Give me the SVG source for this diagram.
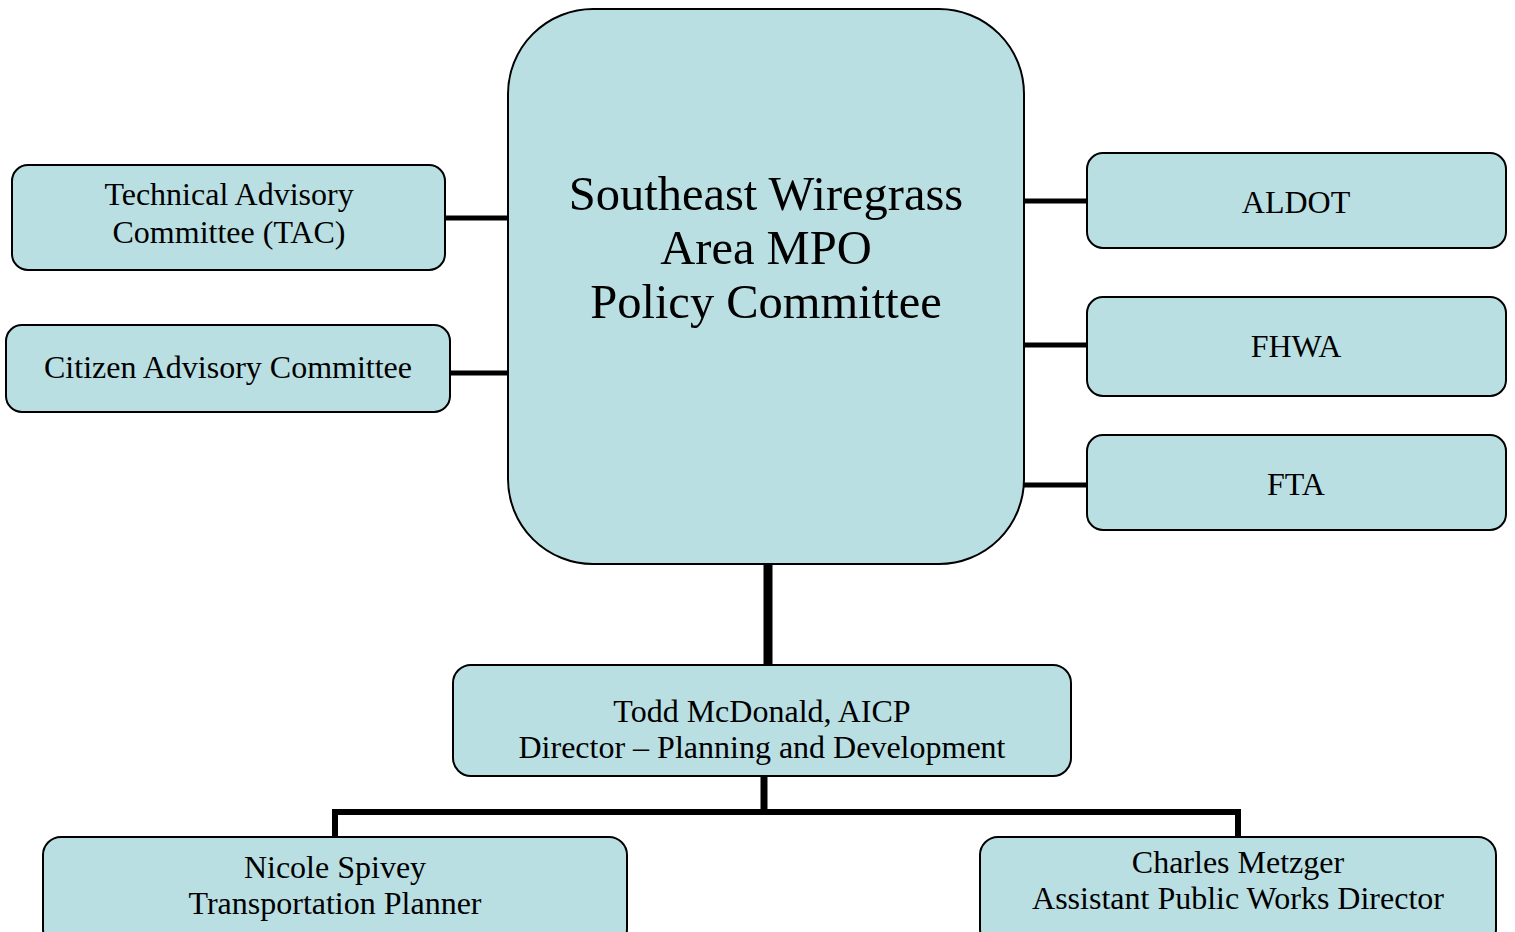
<svg xmlns="http://www.w3.org/2000/svg" width="1515" height="932" viewBox="0 0 1515 932">
<style>
.box{fill:#B9DFE3;stroke:#000;stroke-width:2}
.t{font-family:"Liberation Serif","Times New Roman",serif;font-size:32px;fill:#000;text-anchor:middle}
.big{font-size:48.5px}
.c{stroke:#000;fill:none;stroke-linecap:butt}
</style>
<rect width="1515" height="932" fill="#fff"/>
<g id="connectors">
<line class="c" x1="445" y1="218" x2="508" y2="218" stroke-width="5"/>
<line class="c" x1="450" y1="373" x2="508" y2="373" stroke-width="5"/>
<line class="c" x1="1024" y1="201" x2="1087" y2="201" stroke-width="5"/>
<line class="c" x1="1024" y1="345" x2="1087" y2="345" stroke-width="5"/>
<line class="c" x1="1024" y1="485" x2="1087" y2="485" stroke-width="5"/>
<line class="c" x1="768" y1="564" x2="768" y2="665" stroke-width="9"/>
<line class="c" x1="764" y1="776" x2="764" y2="812" stroke-width="7"/>
<polyline class="c" points="335,837 335,812 1238,812 1238,837" stroke-width="6"/>
</g>
<g id="policy">
<rect class="box" x="508" y="9" width="516" height="555" rx="85" ry="85"/>
<text class="t big" x="766" y="210">Southeast Wiregrass</text>
<text class="t big" x="766" y="264">Area MPO</text>
<text class="t big" x="766" y="318">Policy Committee</text>
</g>
<g id="tac">
<rect class="box" x="12" y="165" width="433" height="105" rx="16" ry="16"/>
<text class="t" x="229" y="205">Technical Advisory</text>
<text class="t" x="229" y="243">Committee (TAC)</text>
</g>
<g id="cac">
<rect class="box" x="6" y="325" width="444" height="87" rx="16" ry="16"/>
<text class="t" x="228" y="378">Citizen Advisory Committee</text>
</g>
<g id="aldot">
<rect class="box" x="1087" y="153" width="419" height="95" rx="16" ry="16"/>
<text class="t" x="1296" y="213">ALDOT</text>
</g>
<g id="fhwa">
<rect class="box" x="1087" y="297" width="419" height="99" rx="16" ry="16"/>
<text class="t" x="1296" y="357">FHWA</text>
</g>
<g id="fta">
<rect class="box" x="1087" y="435" width="419" height="95" rx="16" ry="16"/>
<text class="t" x="1296" y="495">FTA</text>
</g>
<g id="todd">
<rect class="box" x="453" y="665" width="618" height="111" rx="18" ry="18"/>
<text class="t" x="762" y="722">Todd McDonald, AICP</text>
<text class="t" x="762" y="758">Director – Planning and Development</text>
</g>
<g id="nicole">
<rect class="box" x="43" y="837" width="584" height="110" rx="18" ry="18"/>
<text class="t" x="335" y="878">Nicole Spivey</text>
<text class="t" x="335" y="914">Transportation Planner</text>
</g>
<g id="charles">
<rect class="box" x="980" y="837" width="516" height="110" rx="18" ry="18"/>
<text class="t" x="1238" y="873">Charles Metzger</text>
<text class="t" x="1238" y="909">Assistant Public Works Director</text>
</g>
</svg>
